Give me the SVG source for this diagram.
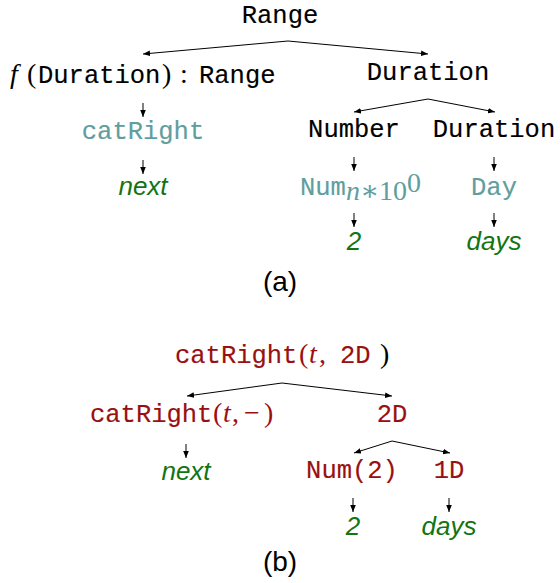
<svg xmlns="http://www.w3.org/2000/svg" width="560" height="583" viewBox="0 0 560 583">
<defs>
<marker id="ah" viewBox="0 0 10 10" refX="10" refY="5" markerWidth="7" markerHeight="7" markerUnits="userSpaceOnUse" orient="auto">
<path d="M0,1 L10,5 L0,9 z" fill="#000"/>
</marker>
<style>
.mono{font-family:"Liberation Mono","DejaVu Sans Mono",monospace;font-size:25.5px;stroke-width:0.15px;}
.ser{font-family:"Liberation Serif","DejaVu Serif",serif;font-size:28px;}
.it{font-style:italic;}
.leaf{font-family:"Liberation Sans","DejaVu Sans",sans-serif;font-style:italic;font-size:26px;fill:#127512;}
.lab{font-family:"Liberation Sans","DejaVu Sans",sans-serif;font-size:28px;fill:#000;}
.teal{fill:#5f9e9e;stroke:#5f9e9e;}
.red{fill:#9a1010;stroke:#9a1010;}
.blk{fill:#000;stroke:#000;}
.ser,.leaf,.lab{stroke:none;}
.c line{stroke:#000;stroke-width:1;fill:none;marker-end:url(#ah);}
</style>
</defs>
<rect width="560" height="583" fill="#fff"/>

<g class="c" id="connectors">
<line x1="288" y1="41" x2="143" y2="54"/>
<line x1="288" y1="41" x2="428" y2="54"/>
<line x1="143" y1="103" x2="143" y2="117"/>
<line x1="143" y1="160" x2="143" y2="174"/>
<line x1="428" y1="99" x2="354" y2="112"/>
<line x1="428" y1="99" x2="495" y2="112"/>
<line x1="354" y1="157" x2="354" y2="171"/>
<line x1="494" y1="157" x2="494" y2="171"/>
<line x1="354" y1="213" x2="354" y2="227"/>
<line x1="494" y1="213" x2="494" y2="227"/>
<line x1="282" y1="383" x2="187" y2="396"/>
<line x1="282" y1="383" x2="392" y2="396"/>
<line x1="186" y1="444" x2="186" y2="458"/>
<line x1="392" y1="441" x2="354" y2="453"/>
<line x1="392" y1="441" x2="450" y2="453"/>
<line x1="353" y1="498" x2="353" y2="512"/>
<line x1="449" y1="498" x2="449" y2="512"/>
</g>

<g id="a-range"><text x="280" y="23" text-anchor="middle" class="mono blk">Range</text></g>
<g id="a-fdur"><text y="83" class="blk"><tspan x="10" class="ser it">f</tspan><tspan x="27" class="ser">(</tspan><tspan x="38" class="mono blk">Duration</tspan><tspan x="162" class="ser">)</tspan><tspan x="180" class="ser">:</tspan><tspan x="199" class="mono blk">Range</tspan></text></g>
<g id="a-catright"><text x="143" y="139" text-anchor="middle" class="mono teal">catRight</text></g>
<g id="a-next"><text x="143" y="195" text-anchor="middle" class="leaf">next</text></g>
<g id="a-duration"><text x="428" y="80" text-anchor="middle" class="mono blk">Duration</text></g>
<g id="a-number"><text x="354" y="137" text-anchor="middle" class="mono blk">Number</text></g>
<g id="a-duration2"><text x="494" y="137" text-anchor="middle" class="mono blk">Duration</text></g>
<g id="a-num"><text y="195" class="teal"><tspan x="300" class="mono teal">Num</tspan><tspan x="346" class="ser it" font-size="19" dy="5">n</tspan><tspan class="ser" font-size="19">∗10</tspan><tspan class="ser" font-size="13" dy="-8">0</tspan></text></g>
<g id="a-day"><text x="494" y="195" text-anchor="middle" class="mono teal">Day</text></g>
<g id="a-2"><text x="354" y="250" text-anchor="middle" class="leaf">2</text></g>
<g id="a-days"><text x="494" y="250" text-anchor="middle" class="leaf">days</text></g>
<text x="280" y="291" text-anchor="middle" class="lab">(a)</text>

<g id="b-root"><text y="363" class="red"><tspan x="175" class="mono red">catRight</tspan><tspan x="299" class="ser" fill="#9a1010">(</tspan><tspan x="309" class="ser it" fill="#9a1010">t</tspan><tspan x="319" class="ser" fill="#9a1010">,</tspan><tspan x="340" class="mono red">2D</tspan><tspan x="380" class="ser" fill="#000">)</tspan></text></g>
<g id="b-catright"><text y="422" class="red"><tspan x="90" class="mono red">catRight</tspan><tspan x="213" class="ser" fill="#9a1010">(</tspan><tspan x="223" class="ser it" fill="#9a1010">t</tspan><tspan x="232" class="ser" fill="#9a1010">,</tspan><tspan x="244" class="ser" fill="#9a1010">−</tspan><tspan x="264" class="ser" fill="#9a1010">)</tspan></text></g>
<g id="b-next"><text x="186" y="480" text-anchor="middle" class="leaf">next</text></g>
<g id="b-2d"><text x="392" y="422" text-anchor="middle" class="mono red">2D</text></g>
<g id="b-num2"><text x="352" y="478" text-anchor="middle" class="mono red">Num(2)</text></g>
<g id="b-1d"><text x="449" y="478" text-anchor="middle" class="mono red">1D</text></g>
<g id="b-2"><text x="353" y="535" text-anchor="middle" class="leaf">2</text></g>
<g id="b-days"><text x="449" y="535" text-anchor="middle" class="leaf">days</text></g>
<text x="280" y="571" text-anchor="middle" class="lab">(b)</text>
</svg>
